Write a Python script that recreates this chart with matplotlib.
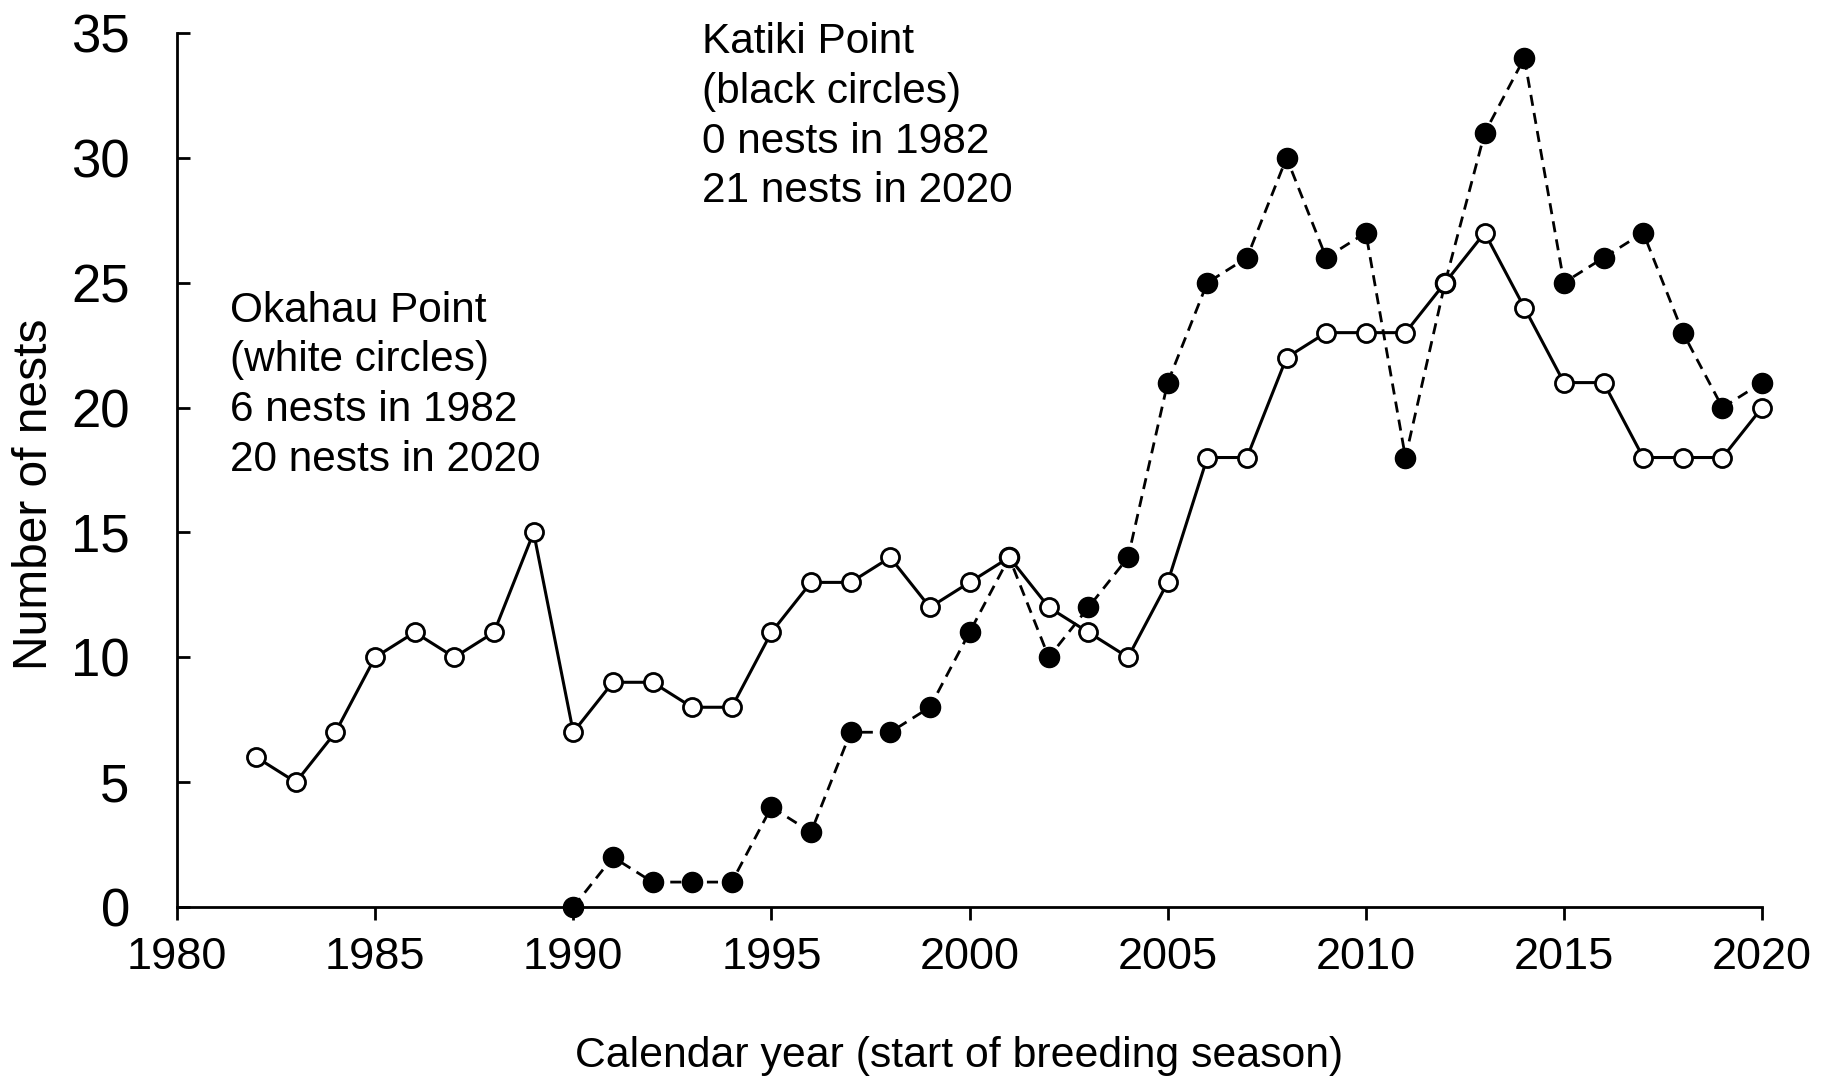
import numpy as np
import matplotlib.pyplot as plt

plt.rcParams['font.family'] = ['Liberation Sans', 'DejaVu Sans']

# Okahau Point (white circles)
okahau_years = np.arange(1982, 2021)
okahau_nests = [6, 5, 7, 10, 11, 10, 11, 15, 7, 9, 9, 8, 8, 11, 13, 13, 14, 12, 13, 14,
                12, 11, 10, 13, 18, 18, 22, 23, 23, 23, 25, 27, 24, 21, 21, 18, 18, 18, 20]

# Katiki Point (black circles)
katiki_years = np.arange(1990, 2021)
katiki_nests = [0, 2, 1, 1, 1, 4, 3, 7, 7, 8, 11, 14, 10, 12, 14, 21, 25, 26, 30, 26,
                27, 18, 25, 31, 34, 25, 26, 27, 23, 20, 21]

xticks = [1980, 1985, 1990, 1995, 2000, 2005, 2010, 2015, 2020]
yticks = [0, 5, 10, 15, 20, 25, 30, 35]

fig = plt.figure(figsize=(18.34, 10.77), dpi=100)
ax = fig.add_axes([0.0965, 0.1578, 0.8643, 0.8116])

ax.plot(katiki_years, katiki_nests, color='black', lw=2, dashes=(4, 2.6),
        marker='o', ms=14.5, mfc='black', mec='black', zorder=3, clip_on=False)
ax.plot(okahau_years, okahau_nests, color='black', lw=2.2,
        marker='o', ms=13, mfc='white', mec='black', mew=2, zorder=4, clip_on=False)

ax.set_xlim(1980, 2020)
ax.set_ylim(0, 35)
ax.set_xticks(xticks)
ax.set_yticks(yticks)

for s in ['top', 'right']:
    ax.spines[s].set_visible(False)
for s in ['left', 'bottom']:
    ax.spines[s].set_linewidth(2)

ax.tick_params(axis='x', direction='out', length=9.5, width=2, labelsize=32.5, pad=12)
ax.tick_params(axis='y', direction='in', length=9.5, width=2, labelsize=38, pad=34)

ax.set_xlabel('Calendar year (start of breeding season)', fontsize=30.8, va='center')
ax.xaxis.set_label_coords(0.4934, -0.1705)
ax.set_ylabel('Number of nests', fontsize=34.5, va='center')
ax.yaxis.set_label_coords(-0.0902, 0.4725)

ax.text(0.331, 1.012, 'Katiki Point\n(black circles)\n0 nests in 1982\n21 nests in 2020',
        transform=ax.transAxes, fontsize=30.5, va='top', ha='left', linespacing=1.31)
ax.text(0.0334, 0.705, 'Okahau Point\n(white circles)\n6 nests in 1982\n20 nests in 2020',
        transform=ax.transAxes, fontsize=30.5, va='top', ha='left', linespacing=1.31)

fig.savefig('out.png', dpi=100)
